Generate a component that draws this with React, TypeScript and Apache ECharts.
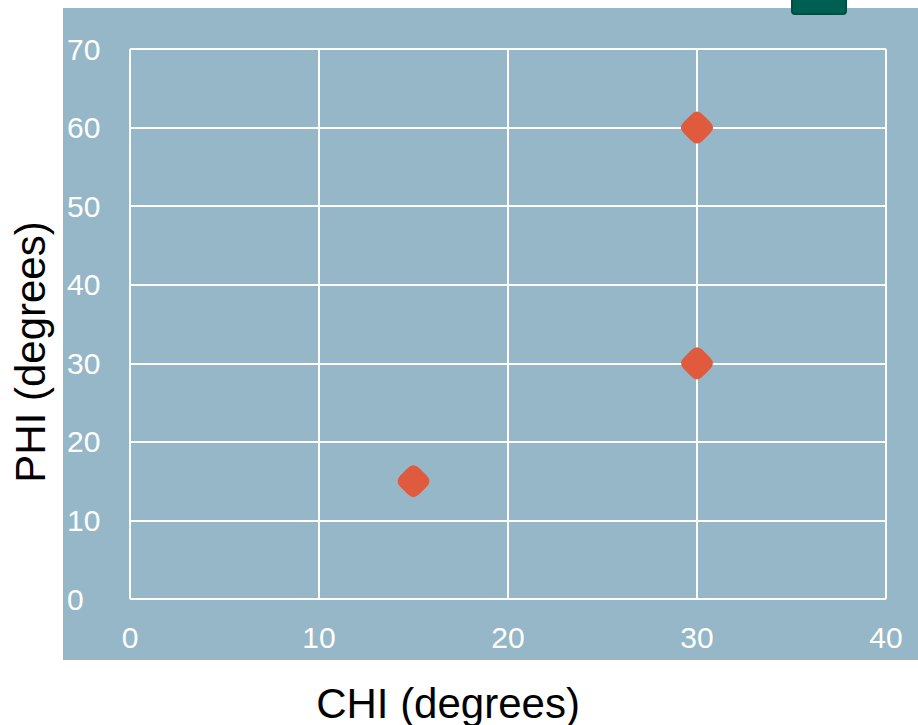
import React, { useEffect, useRef } from "react";
import * as echarts from "echarts";

const xTicks = [0, 10, 20, 30, 40];
const yTicks = [0, 10, 20, 30, 40, 50, 60, 70];
const chiValues = [15, 30, 30];
const phiValues = [15, 30, 60];
const xTitle = "CHI (degrees)";
const yTitle = "PHI (degrees)";

const diamond =
  "path://M-3,-7 Q0,-10 3,-7 L7,-3 Q10,0 7,3 L3,7 Q0,10 -3,7 L-7,3 Q-10,0 -7,-3 Z";

const FONT = "'Liberation Sans', Arial, sans-serif";

export default function App() {
  const ref = useRef<HTMLDivElement>(null);
  useEffect(() => {
    if (!ref.current) return;
    const chart = echarts.init(ref.current, null, { renderer: "svg" });
    chart.setOption({
      animation: false,
      backgroundColor: "#ffffff",
      graphic: [
        {
          type: "rect",
          z: -10,
          shape: { x: 63, y: 8, width: 855, height: 652 },
          style: { fill: "#95b7c7" },
          silent: true,
        },
        {
          type: "rect",
          z: 10,
          shape: { x: 792, y: -6, width: 54, height: 20, r: 3 },
          style: { fill: "#005f53", stroke: "#004d43", lineWidth: 2 },
        },
        {
          type: "text",
          x: 30,
          y: 352,
          rotation: Math.PI / 2,
          style: {
            text: yTitle,
            font: "42px " + FONT,
            fill: "#000000",
            align: "center",
            verticalAlign: "middle",
          },
        },
        {
          type: "text",
          x: 448,
          y: 703,
          style: {
            text: xTitle,
            font: "42px " + FONT,
            fill: "#000000",
            align: "center",
            verticalAlign: "middle",
          },
        },
      ],
      grid: { left: 130, right: 32, top: 49, bottom: 126, containLabel: false },
      xAxis: {
        type: "value",
        min: xTicks[0],
        max: xTicks[xTicks.length - 1],
        interval: 10,
        axisLine: { show: false },
        axisTick: { show: false },
        splitLine: { show: true, lineStyle: { color: "#ffffff", width: 2 } },
        axisLabel: {
          color: "#ffffff",
          fontSize: 30,
          fontFamily: FONT,
          margin: 23,
        },
      },
      yAxis: {
        type: "value",
        min: yTicks[0],
        max: yTicks[yTicks.length - 1],
        interval: 10,
        axisLine: { show: false },
        axisTick: { show: false },
        splitLine: { show: true, lineStyle: { color: "#ffffff", width: 2 } },
        axisLabel: {
          color: "#ffffff",
          fontSize: 30,
          fontFamily: FONT,
          align: "left",
          margin: 63,
        },
      },
      series: [
        {
          type: "scatter",
          data: chiValues.map((c, i) => [c, phiValues[i]]),
          symbol: diamond,
          symbolSize: 32,
          itemStyle: { color: "#e05a3e", opacity: 1 },
        },
      ],
    });
    return () => chart.dispose();
  }, []);
  return (
    <div
      ref={ref}
      style={{ position: "fixed", left: 0, top: 0, width: 918, height: 725 }}
    />
  );
}
